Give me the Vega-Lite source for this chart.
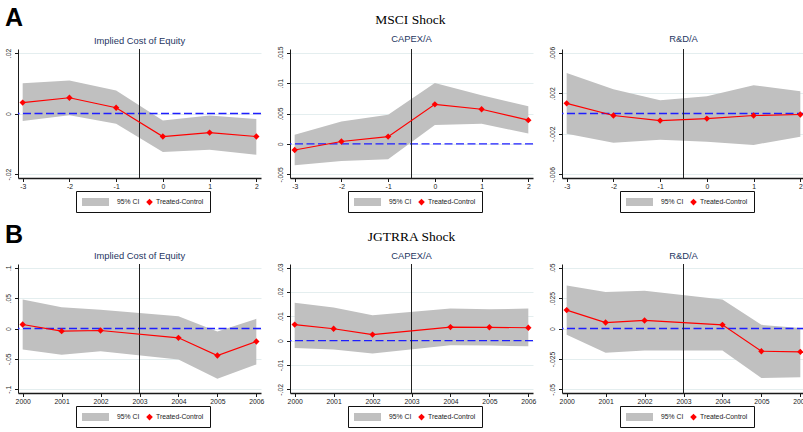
{
  "$schema": "https://vega.github.io/schema/vega-lite/v6.json",
  "background": "white",
  "padding": {"left": 5, "top": 6, "right": 0, "bottom": 0},
  "datasets": {
    "a1": [
      {"t": -3, "coef": 0.0036, "lo": -0.0025, "hi": 0.0100},
      {"t": -2, "coef": 0.0052, "lo": -0.0006, "hi": 0.0109},
      {"t": -1, "coef": 0.0019, "lo": -0.0034, "hi": 0.0076},
      {"t": 0, "coef": -0.0076, "lo": -0.0127, "hi": -0.0023},
      {"t": 1, "coef": -0.0063, "lo": -0.0120, "hi": -0.0007},
      {"t": 2, "coef": -0.0076, "lo": -0.0136, "hi": -0.0018}
    ],
    "a2": [
      {"t": -3, "coef": -0.0010, "lo": -0.0035, "hi": 0.0015},
      {"t": -2, "coef": 0.0004, "lo": -0.0028, "hi": 0.0037},
      {"t": -1, "coef": 0.0012, "lo": -0.0025, "hi": 0.0048},
      {"t": 0, "coef": 0.0065, "lo": 0.0031, "hi": 0.0100},
      {"t": 1, "coef": 0.0057, "lo": 0.0033, "hi": 0.0080},
      {"t": 2, "coef": 0.0039, "lo": 0.0017, "hi": 0.0062}
    ],
    "a3": [
      {"t": -3, "coef": 0.0010, "lo": -0.0020, "hi": 0.0040},
      {"t": -2, "coef": -0.0002, "lo": -0.0029, "hi": 0.0024},
      {"t": -1, "coef": -0.0007, "lo": -0.0026, "hi": 0.0013},
      {"t": 0, "coef": -0.0005, "lo": -0.0028, "hi": 0.0017},
      {"t": 1, "coef": -0.0002, "lo": -0.0031, "hi": 0.0028},
      {"t": 2, "coef": -0.0001, "lo": -0.0023, "hi": 0.0022}
    ],
    "b1": [
      {"t": 2000, "coef": 0.0066, "lo": -0.0345, "hi": 0.0477},
      {"t": 2001, "coef": -0.0044, "lo": -0.0433, "hi": 0.0350},
      {"t": 2002, "coef": -0.0033, "lo": -0.0373, "hi": 0.0307},
      {"t": 2004, "coef": -0.0153, "lo": -0.0510, "hi": 0.0202},
      {"t": 2005, "coef": -0.0444, "lo": -0.0827, "hi": -0.0049},
      {"t": 2006, "coef": -0.0214, "lo": -0.0592, "hi": 0.0160}
    ],
    "b2": [
      {"t": 2000, "coef": 0.0066, "lo": -0.0030, "hi": 0.0156},
      {"t": 2001, "coef": 0.0049, "lo": -0.0036, "hi": 0.0136},
      {"t": 2002, "coef": 0.0025, "lo": -0.0053, "hi": 0.0104},
      {"t": 2004, "coef": 0.0056, "lo": -0.0019, "hi": 0.0132},
      {"t": 2005, "coef": 0.0055, "lo": -0.0020, "hi": 0.0129},
      {"t": 2006, "coef": 0.0053, "lo": -0.0023, "hi": 0.0132}
    ],
    "b3": [
      {"t": 2000, "coef": 0.0151, "lo": -0.0052, "hi": 0.0354},
      {"t": 2001, "coef": 0.0049, "lo": -0.0200, "hi": 0.0299},
      {"t": 2002, "coef": 0.0066, "lo": -0.0181, "hi": 0.0310},
      {"t": 2004, "coef": 0.0030, "lo": -0.0181, "hi": 0.0239},
      {"t": 2005, "coef": -0.0187, "lo": -0.0407, "hi": 0.0030},
      {"t": 2006, "coef": -0.0192, "lo": -0.0401, "hi": 0.0005}
    ]
  },
  "config": {
    "view": {"stroke": null},
    "font": "Liberation Sans",
    "axis": {"labelFont": "Liberation Sans", "labelFontSize": 6.8, "labelColor": "#1a1a1a", "tickColor": "#1a1a1a", "domainColor": "#1a1a1a", "tickSize": 3.5, "labelPadding": 1.5, "labelFlush": false, "labelOverlap": false, "tickCount": 20, "gridColor": "#e4eeef", "gridWidth": 1},
    "axisX": {"grid": false, "domainWidth": 1.3},
    "axisY": {"grid": true, "labelAngle": -90, "domainWidth": 1, "labelPadding": 3.5},
    "title": {"font": "Liberation Sans", "fontSize": 9.4, "fontWeight": "normal", "color": "#26365f", "offset": 2},
    "legend": {"orient": "none", "legendX": 58, "legendY": 142, "direction": "horizontal", "columns": 2, "title": null, "strokeColor": "#111111", "fillColor": "white", "padding": 6, "labelFont": "Liberation Sans", "labelFontSize": 6.8, "labelColor": "#1a1a1a", "symbolSize": 100, "symbolStrokeWidth": 0, "columnPadding": 6}
  },
  "spacing": 10,
  "resolve": {"scale": {"x": "independent", "y": "independent", "color": "independent"}, "axis": {"x": "independent", "y": "independent"}, "legend": {"color": "independent"}},
  "vconcat": [
    {
      "title": {"text": "A", "anchor": "start", "frame": "bounds", "font": "Liberation Sans", "fontSize": 25, "fontWeight": "bold", "color": "black", "offset": 0, "dy": 18},
      "resolve": {"scale": {"x": "independent", "y": "independent", "color": "independent"}, "axis": {"x": "independent", "y": "independent"}, "legend": {"color": "independent"}},
      "vconcat": [
        {
          "title": {"text": "MSCI Shock", "anchor": "middle", "frame": "bounds", "font": "Liberation Serif", "fontSize": 13.5, "fontWeight": "normal", "color": "black", "offset": 7, "dx": 5},
          "bounds": "flush",
          "spacing": 29,
          "resolve": {"scale": {"x": "independent", "y": "independent", "color": "independent"}, "axis": {"x": "independent", "y": "independent"}, "legend": {"color": "independent"}},
          "hconcat": [
            {
              "width": 243, "height": 129,
              "title": {"text": "Implied Cost of Equity"},
              "data": {"name": "a1"},
              "layer": [
                {"mark": {"type": "area", "opacity": 1},
                 "encoding": {
                   "x": {"field": "t", "type": "quantitative", "title": null, "scale": {"domain": [-3.1, 2.1], "nice": false, "zero": false}, "axis": {"values": [-3, -2, -1, 0, 1, 2], "tickCount": 20, "labelExpr": "replace(format(datum.value, 'd'), '\u2212', '-')", "title": null}},
                   "y": {"field": "lo", "type": "quantitative", "title": null, "scale": {"domain": [-0.0213, 0.0213], "nice": false, "zero": false}, "axis": {"values": [-0.02, 0, 0.02], "tickCount": 20, "labelExpr": "replace(replace(format(datum.value, '.3~f'), '0.', '.'), '\u2212', '-')", "title": null}},
                   "y2": {"field": "hi"},
                   "color": {"datum": "95% CI", "scale": {"domain": ["95% CI", "Treated-Control"], "range": ["#c0c0c0", "#ff0000"]},
                     "legend": {"symbolType": {"expr": "datum.value === '95% CI' ? 'M-1,-0.8H4.4V0.8H-1Z' : 'M-0.96,0L-0.3,-0.66L0.36,0L-0.3,0.66Z'"}, "labelOffset": {"expr": "datum.value === '95% CI' ? 25 : 0"}}}
                 }},
                {"mark": {"type": "rule", "stroke": "#1e1eff", "strokeDash": [8, 3.5], "strokeWidth": 1.4}, "data": {"values": [{}]}, "encoding": {"y": {"datum": 0}}},
                {"mark": {"type": "rule", "stroke": "#222222", "strokeWidth": 1}, "data": {"values": [{}]}, "encoding": {"x": {"datum": -0.5}}},
                {"mark": {"type": "line", "strokeWidth": 1.2, "point": {"shape": "diamond", "size": 40, "filled": true}},
                 "encoding": {"x": {"field": "t", "type": "quantitative", "title": null}, "y": {"field": "coef", "type": "quantitative", "title": null}, "color": {"datum": "Treated-Control", "legend": {"symbolType": {"expr": "datum.value === '95% CI' ? 'M-1,-0.8H4.4V0.8H-1Z' : 'M-0.96,0L-0.3,-0.66L0.36,0L-0.3,0.66Z'"}, "labelOffset": {"expr": "datum.value === '95% CI' ? 25 : 0"}}}}}
              ]
            },
            {
              "width": 243, "height": 129,
              "title": {"text": "CAPEX/A"},
              "data": {"name": "a2"},
              "layer": [
                {"mark": {"type": "area", "opacity": 1},
                 "encoding": {
                   "x": {"field": "t", "type": "quantitative", "title": null, "scale": {"domain": [-3.1, 2.1], "nice": false, "zero": false}, "axis": {"values": [-3, -2, -1, 0, 1, 2], "tickCount": 20, "labelExpr": "replace(format(datum.value, 'd'), '\u2212', '-')", "title": null}},
                   "y": {"field": "lo", "type": "quantitative", "title": null, "scale": {"domain": [-0.0056, 0.0156], "nice": false, "zero": false}, "axis": {"values": [-0.005, 0, 0.005, 0.01, 0.015], "tickCount": 20, "labelExpr": "replace(replace(format(datum.value, '.3~f'), '0.', '.'), '\u2212', '-')", "title": null}},
                   "y2": {"field": "hi"},
                   "color": {"datum": "95% CI", "scale": {"domain": ["95% CI", "Treated-Control"], "range": ["#c0c0c0", "#ff0000"]},
                     "legend": {"symbolType": {"expr": "datum.value === '95% CI' ? 'M-1,-0.8H4.4V0.8H-1Z' : 'M-0.96,0L-0.3,-0.66L0.36,0L-0.3,0.66Z'"}, "labelOffset": {"expr": "datum.value === '95% CI' ? 25 : 0"}}}
                 }},
                {"mark": {"type": "rule", "stroke": "#1e1eff", "strokeDash": [8, 3.5], "strokeWidth": 1.4}, "data": {"values": [{}]}, "encoding": {"y": {"datum": 0}}},
                {"mark": {"type": "rule", "stroke": "#222222", "strokeWidth": 1}, "data": {"values": [{}]}, "encoding": {"x": {"datum": -0.5}}},
                {"mark": {"type": "line", "strokeWidth": 1.2, "point": {"shape": "diamond", "size": 40, "filled": true}},
                 "encoding": {"x": {"field": "t", "type": "quantitative", "title": null}, "y": {"field": "coef", "type": "quantitative", "title": null}, "color": {"datum": "Treated-Control", "legend": {"symbolType": {"expr": "datum.value === '95% CI' ? 'M-1,-0.8H4.4V0.8H-1Z' : 'M-0.96,0L-0.3,-0.66L0.36,0L-0.3,0.66Z'"}, "labelOffset": {"expr": "datum.value === '95% CI' ? 25 : 0"}}}}}
              ]
            },
            {
              "width": 243, "height": 129,
              "title": {"text": "R&D/A"},
              "data": {"name": "a3"},
              "layer": [
                {"mark": {"type": "area", "opacity": 1},
                 "encoding": {
                   "x": {"field": "t", "type": "quantitative", "title": null, "scale": {"domain": [-3.1, 2.1], "nice": false, "zero": false}, "axis": {"values": [-3, -2, -1, 0, 1, 2], "tickCount": 20, "labelExpr": "replace(format(datum.value, 'd'), '\u2212', '-')", "title": null}},
                   "y": {"field": "lo", "type": "quantitative", "title": null, "scale": {"domain": [-0.00637, 0.00637], "nice": false, "zero": false}, "axis": {"values": [-0.006, -0.002, 0.002, 0.006], "tickCount": 20, "labelExpr": "replace(replace(format(datum.value, '.3~f'), '0.', '.'), '\u2212', '-')", "title": null}},
                   "y2": {"field": "hi"},
                   "color": {"datum": "95% CI", "scale": {"domain": ["95% CI", "Treated-Control"], "range": ["#c0c0c0", "#ff0000"]},
                     "legend": {"symbolType": {"expr": "datum.value === '95% CI' ? 'M-1,-0.8H4.4V0.8H-1Z' : 'M-0.96,0L-0.3,-0.66L0.36,0L-0.3,0.66Z'"}, "labelOffset": {"expr": "datum.value === '95% CI' ? 25 : 0"}}}
                 }},
                {"mark": {"type": "rule", "stroke": "#1e1eff", "strokeDash": [8, 3.5], "strokeWidth": 1.4}, "data": {"values": [{}]}, "encoding": {"y": {"datum": 0}}},
                {"mark": {"type": "rule", "stroke": "#222222", "strokeWidth": 1}, "data": {"values": [{}]}, "encoding": {"x": {"datum": -0.5}}},
                {"mark": {"type": "line", "strokeWidth": 1.2, "point": {"shape": "diamond", "size": 40, "filled": true}},
                 "encoding": {"x": {"field": "t", "type": "quantitative", "title": null}, "y": {"field": "coef", "type": "quantitative", "title": null}, "color": {"datum": "Treated-Control", "legend": {"symbolType": {"expr": "datum.value === '95% CI' ? 'M-1,-0.8H4.4V0.8H-1Z' : 'M-0.96,0L-0.3,-0.66L0.36,0L-0.3,0.66Z'"}, "labelOffset": {"expr": "datum.value === '95% CI' ? 25 : 0"}}}}}
              ]
            }
          ]
        }
      ]
    },
    {
      "title": {"text": "B", "anchor": "start", "frame": "bounds", "font": "Liberation Sans", "fontSize": 25, "fontWeight": "bold", "color": "black", "offset": 0, "dy": 18},
      "resolve": {"scale": {"x": "independent", "y": "independent", "color": "independent"}, "axis": {"x": "independent", "y": "independent"}, "legend": {"color": "independent"}},
      "vconcat": [
        {
          "title": {"text": "JGTRRA Shock", "anchor": "middle", "frame": "bounds", "font": "Liberation Serif", "fontSize": 13.5, "fontWeight": "normal", "color": "black", "offset": 7, "dx": 5},
          "bounds": "flush",
          "spacing": 29,
          "resolve": {"scale": {"x": "independent", "y": "independent", "color": "independent"}, "axis": {"x": "independent", "y": "independent"}, "legend": {"color": "independent"}},
          "hconcat": [
            {
              "width": 243, "height": 129,
              "title": {"text": "Implied Cost of Equity"},
              "data": {"name": "b1"},
              "layer": [
                {"mark": {"type": "area", "opacity": 1},
                 "encoding": {
                   "x": {"field": "t", "type": "quantitative", "title": null, "scale": {"domain": [1999.88, 2006.12], "nice": false, "zero": false}, "axis": {"values": [2000, 2001, 2002, 2003, 2004, 2005, 2006], "tickCount": 20, "format": "d", "title": null}},
                   "y": {"field": "lo", "type": "quantitative", "title": null, "scale": {"domain": [-0.1061, 0.1061], "nice": false, "zero": false}, "axis": {"values": [-0.1, -0.05, 0, 0.05, 0.1], "tickCount": 20, "labelExpr": "replace(replace(format(datum.value, '.3~f'), '0.', '.'), '\u2212', '-')", "title": null}},
                   "y2": {"field": "hi"},
                   "color": {"datum": "95% CI", "scale": {"domain": ["95% CI", "Treated-Control"], "range": ["#c0c0c0", "#ff0000"]},
                     "legend": {"symbolType": {"expr": "datum.value === '95% CI' ? 'M-1,-0.8H4.4V0.8H-1Z' : 'M-0.96,0L-0.3,-0.66L0.36,0L-0.3,0.66Z'"}, "labelOffset": {"expr": "datum.value === '95% CI' ? 25 : 0"}}}
                 }},
                {"mark": {"type": "rule", "stroke": "#1e1eff", "strokeDash": [8, 3.5], "strokeWidth": 1.4}, "data": {"values": [{}]}, "encoding": {"y": {"datum": 0}}},
                {"mark": {"type": "rule", "stroke": "#222222", "strokeWidth": 1}, "data": {"values": [{}]}, "encoding": {"x": {"datum": 2003}}},
                {"mark": {"type": "line", "strokeWidth": 1.2, "point": {"shape": "diamond", "size": 40, "filled": true}},
                 "encoding": {"x": {"field": "t", "type": "quantitative", "title": null}, "y": {"field": "coef", "type": "quantitative", "title": null}, "color": {"datum": "Treated-Control", "legend": {"symbolType": {"expr": "datum.value === '95% CI' ? 'M-1,-0.8H4.4V0.8H-1Z' : 'M-0.96,0L-0.3,-0.66L0.36,0L-0.3,0.66Z'"}, "labelOffset": {"expr": "datum.value === '95% CI' ? 25 : 0"}}}}}
              ]
            },
            {
              "width": 243, "height": 129,
              "title": {"text": "CAPEX/A"},
              "data": {"name": "b2"},
              "layer": [
                {"mark": {"type": "area", "opacity": 1},
                 "encoding": {
                   "x": {"field": "t", "type": "quantitative", "title": null, "scale": {"domain": [1999.88, 2006.12], "nice": false, "zero": false}, "axis": {"values": [2000, 2001, 2002, 2003, 2004, 2005, 2006], "tickCount": 20, "format": "d", "title": null}},
                   "y": {"field": "lo", "type": "quantitative", "title": null, "scale": {"domain": [-0.0215, 0.0315], "nice": false, "zero": false}, "axis": {"values": [-0.02, -0.01, 0, 0.01, 0.02, 0.03], "tickCount": 20, "labelExpr": "replace(replace(format(datum.value, '.3~f'), '0.', '.'), '\u2212', '-')", "title": null}},
                   "y2": {"field": "hi"},
                   "color": {"datum": "95% CI", "scale": {"domain": ["95% CI", "Treated-Control"], "range": ["#c0c0c0", "#ff0000"]},
                     "legend": {"symbolType": {"expr": "datum.value === '95% CI' ? 'M-1,-0.8H4.4V0.8H-1Z' : 'M-0.96,0L-0.3,-0.66L0.36,0L-0.3,0.66Z'"}, "labelOffset": {"expr": "datum.value === '95% CI' ? 25 : 0"}}}
                 }},
                {"mark": {"type": "rule", "stroke": "#1e1eff", "strokeDash": [8, 3.5], "strokeWidth": 1.4}, "data": {"values": [{}]}, "encoding": {"y": {"datum": 0}}},
                {"mark": {"type": "rule", "stroke": "#222222", "strokeWidth": 1}, "data": {"values": [{}]}, "encoding": {"x": {"datum": 2003}}},
                {"mark": {"type": "line", "strokeWidth": 1.2, "point": {"shape": "diamond", "size": 40, "filled": true}},
                 "encoding": {"x": {"field": "t", "type": "quantitative", "title": null}, "y": {"field": "coef", "type": "quantitative", "title": null}, "color": {"datum": "Treated-Control", "legend": {"symbolType": {"expr": "datum.value === '95% CI' ? 'M-1,-0.8H4.4V0.8H-1Z' : 'M-0.96,0L-0.3,-0.66L0.36,0L-0.3,0.66Z'"}, "labelOffset": {"expr": "datum.value === '95% CI' ? 25 : 0"}}}}}
              ]
            },
            {
              "width": 243, "height": 129,
              "title": {"text": "R&D/A"},
              "data": {"name": "b3"},
              "layer": [
                {"mark": {"type": "area", "opacity": 1},
                 "encoding": {
                   "x": {"field": "t", "type": "quantitative", "title": null, "scale": {"domain": [1999.88, 2006.12], "nice": false, "zero": false}, "axis": {"values": [2000, 2001, 2002, 2003, 2004, 2005, 2006], "tickCount": 20, "format": "d", "title": null}},
                   "y": {"field": "lo", "type": "quantitative", "title": null, "scale": {"domain": [-0.053, 0.053], "nice": false, "zero": false}, "axis": {"values": [-0.05, -0.025, 0, 0.025, 0.05], "tickCount": 20, "labelExpr": "replace(replace(format(datum.value, '.3~f'), '0.', '.'), '\u2212', '-')", "title": null}},
                   "y2": {"field": "hi"},
                   "color": {"datum": "95% CI", "scale": {"domain": ["95% CI", "Treated-Control"], "range": ["#c0c0c0", "#ff0000"]},
                     "legend": {"symbolType": {"expr": "datum.value === '95% CI' ? 'M-1,-0.8H4.4V0.8H-1Z' : 'M-0.96,0L-0.3,-0.66L0.36,0L-0.3,0.66Z'"}, "labelOffset": {"expr": "datum.value === '95% CI' ? 25 : 0"}}}
                 }},
                {"mark": {"type": "rule", "stroke": "#1e1eff", "strokeDash": [8, 3.5], "strokeWidth": 1.4}, "data": {"values": [{}]}, "encoding": {"y": {"datum": 0}}},
                {"mark": {"type": "rule", "stroke": "#222222", "strokeWidth": 1}, "data": {"values": [{}]}, "encoding": {"x": {"datum": 2003}}},
                {"mark": {"type": "line", "strokeWidth": 1.2, "point": {"shape": "diamond", "size": 40, "filled": true}},
                 "encoding": {"x": {"field": "t", "type": "quantitative", "title": null}, "y": {"field": "coef", "type": "quantitative", "title": null}, "color": {"datum": "Treated-Control", "legend": {"symbolType": {"expr": "datum.value === '95% CI' ? 'M-1,-0.8H4.4V0.8H-1Z' : 'M-0.96,0L-0.3,-0.66L0.36,0L-0.3,0.66Z'"}, "labelOffset": {"expr": "datum.value === '95% CI' ? 25 : 0"}}}}}
              ]
            }
          ]
        }
      ]
    }
  ]
}
